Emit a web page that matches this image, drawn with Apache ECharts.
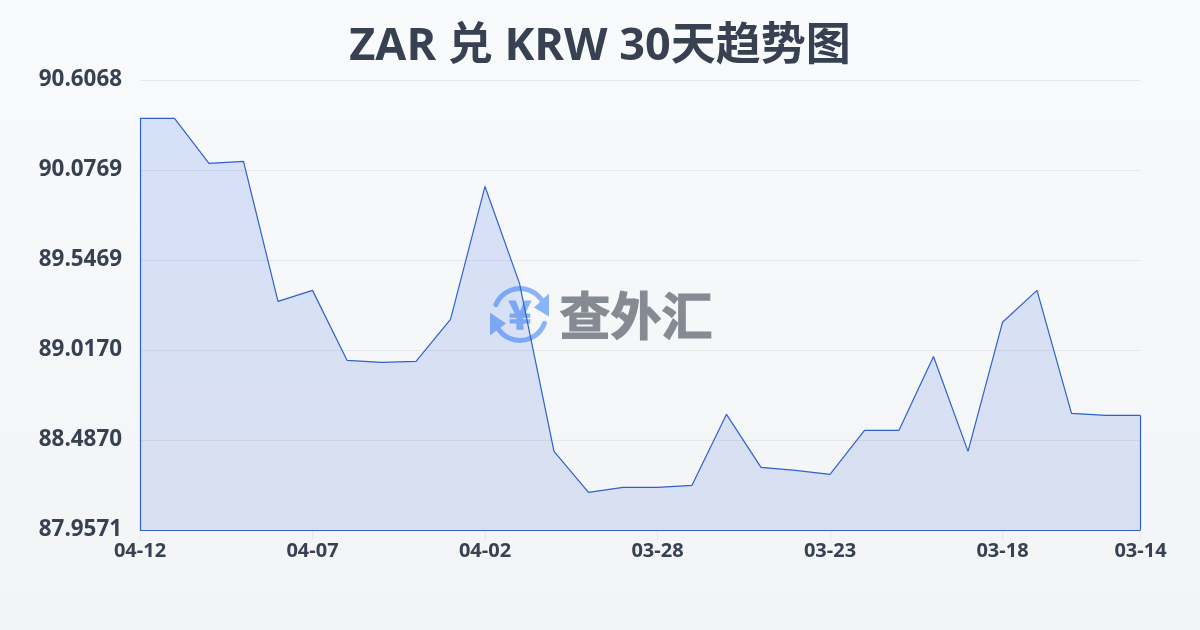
<!DOCTYPE html>
<html><head><meta charset="utf-8">
<style>html,body{margin:0;padding:0;width:1200px;height:630px;overflow:hidden}#c{width:1200px;height:630px}</style>
<script src="https://cdn.jsdelivr.net/npm/echarts@6/dist/echarts.min.js"></script>
</head><body><div id="c"></div>
<script>
const FONT = '"Open Sans","Noto Sans CJK SC",sans-serif';
const categories = ['04-12','04-11','04-10','04-09','04-08','04-07','04-06','04-05','04-04','04-03','04-02','04-01','03-31','03-30','03-29','03-28','03-27','03-26','03-25','03-24','03-23','03-22','03-21','03-20','03-19','03-18','03-17','03-16','03-15','03-14'];
const rates = [90.381,90.381,90.116,90.128,89.303,89.368,88.956,88.944,88.950,89.197,89.980,89.409,88.420,88.179,88.208,88.208,88.220,88.638,88.326,88.308,88.285,88.544,88.544,88.979,88.420,89.180,89.368,88.644,88.632,88.632];
const yTicks = [87.9571,88.4870,89.0170,89.5469,90.0769,90.6068];
const yMin = yTicks[0], yMax = yTicks[yTicks.length-1];
const last = categories.length-1;
const showTick = i => i % 5 === 0 || i === last;
const chart = echarts.init(document.getElementById('c'),null,{renderer:'canvas'});
chart.setOption({
  animation:false,
  backgroundColor:{type:'linear',x:0,y:0,x2:0,y2:1,colorStops:[{offset:0,color:'#f8fafc'},{offset:1,color:'#f3f4f6'}]},
  title:{text:'ZAR 兑 KRW 30天趋势图',left:'center',top:20,textStyle:{fontFamily:FONT,fontSize:45,fontWeight:'bold',color:'#374151'}},
  grid:{left:140,right:59.5,top:80,bottom:100,containLabel:false},
  xAxis:{type:'category',boundaryGap:false,data:categories,
    axisLine:{show:false},
    axisTick:{show:true,length:10,interval:i=>showTick(i),lineStyle:{color:'#e5e7eb',width:1}},
    axisLabel:{interval:i=>showTick(i),showMinLabel:true,showMaxLabel:true,margin:11,fontFamily:FONT,fontSize:20,fontWeight:'bold',color:'#374151'},
    splitLine:{show:false}},
  yAxis:{type:'value',min:yMin,max:yMax,
    axisLine:{show:false},
    axisTick:{show:false,customValues:yTicks},
    axisLabel:{customValues:yTicks,formatter:v=>v.toFixed(4),margin:18,padding:[0,0,4,0],fontFamily:FONT,fontSize:22.4,fontWeight:'bold',color:'#374151'},
    splitLine:{show:true,lineStyle:{color:'#e5e7eb',width:1}}},
  graphic:[
    {type:'group',left:490,top:286,z:-10,silent:true,children:[
      {type:'arc',shape:{cx:30,cy:29,r:26,startAngle:-2.75,endAngle:-0.45},style:{fill:null,stroke:'#8ab4f8',lineWidth:5,lineCap:'round'}},
      {type:'arc',shape:{cx:30,cy:29,r:26,startAngle:0.35,endAngle:2.7},style:{fill:null,stroke:'#8ab4f8',lineWidth:5,lineCap:'round'}},
      {type:'polygon',shape:{points:[[59,8],[59,31],[44,22]]},style:{fill:'#8ab4f8'}},
      {type:'polygon',shape:{points:[[0,27],[0,50],[16,38]]},style:{fill:'#8ab4f8'}},
      {type:'text',style:{x:30,y:29,text:'¥',align:'center',verticalAlign:'middle',fontFamily:'"Noto Sans CJK SC"',fontSize:38,fontWeight:'bold',fill:'#8ab4f8',stroke:'#8ab4f8',lineWidth:1.5}}
    ]},
    {type:'text',left:559,top:290,z:-10,silent:true,style:{text:'查外汇',fontFamily:'"Noto Sans CJK SC"',fontSize:51,fontWeight:'bold',fill:'#868b93',stroke:'#868b93',lineWidth:1.2}}
  ],
  series:[{type:'line',data:rates,symbol:'none',smooth:false,clip:false,
    lineStyle:{color:'#2f62c8',width:1.2},
    areaStyle:{opacity:1,origin:'start',color:{type:'linear',x:0,y:0,x2:0,y2:1,colorStops:[{offset:0,color:'rgba(37,99,235,0.16)'},{offset:1,color:'rgba(37,80,200,0.13)'}]}},
    markLine:{silent:true,symbol:'none',label:{show:false},animation:false,lineStyle:{color:'#2f62c8',width:1.2,type:'solid'},
      data:[
        [{coord:[categories[0],yMin]},{coord:[categories[0],rates[0]]}],
        [{coord:[categories[0],yMin]},{coord:[categories[last],yMin]}],
        [{coord:[categories[last],yMin]},{coord:[categories[last],rates[last]]}]
      ]}
  }]
});
</script></body></html>
